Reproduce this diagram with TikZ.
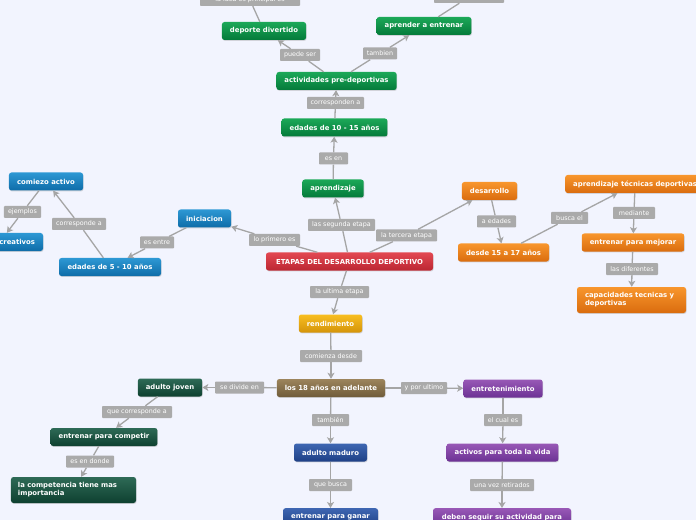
\documentclass[tikz,border=0pt]{standalone}
\usepackage{fontspec}
\setmainfont{DejaVu Sans}
\usetikzlibrary{shadows,arrows.meta}
\definecolor{bgc}{RGB}{242,244,254}
\definecolor{labgray}{RGB}{170,170,170}
\definecolor{linegray}{RGB}{165,165,165}
\definecolor{gTop}{RGB}{28,168,88}\definecolor{gBot}{RGB}{4,122,58}
\definecolor{bTop}{RGB}{45,152,212}\definecolor{bBot}{RGB}{14,108,168}
\definecolor{rTop}{RGB}{226,72,82}\definecolor{rBot}{RGB}{188,38,50}
\definecolor{oTop}{RGB}{248,150,45}\definecolor{oBot}{RGB}{218,108,14}
\definecolor{yTop}{RGB}{248,190,32}\definecolor{yBot}{RGB}{212,148,10}
\definecolor{brTop}{RGB}{156,132,92}\definecolor{brBot}{RGB}{112,92,58}
\definecolor{dgTop}{RGB}{46,106,86}\definecolor{dgBot}{RGB}{14,64,48}
\definecolor{dbTop}{RGB}{62,102,178}\definecolor{dbBot}{RGB}{30,64,134}
\definecolor{pTop}{RGB}{152,88,182}\definecolor{pBot}{RGB}{108,50,148}
\newcommand\NdFont{\fontsize{6.9}{8}\selectfont\bfseries}
\newcommand\LbFont{\fontsize{6.4}{7}\selectfont}
\tikzset{
  box/.style={rounded corners=2.5bp, text=white, font=\NdFont, minimum height=18bp,
    inner xsep=8bp, inner ysep=1bp,
    drop shadow={opacity=0.28, shadow xshift=0.6bp, shadow yshift=-0.9bp}},
  boxgreen/.style={box, top color=gTop, bottom color=gBot},
  boxblue/.style={box, top color=bTop, bottom color=bBot},
  boxred/.style={box, top color=rTop, bottom color=rBot},
  boxorange/.style={box, top color=oTop, bottom color=oBot},
  boxgold/.style={box, top color=yTop, bottom color=yBot},
  boxbrown/.style={box, top color=brTop, bottom color=brBot},
  boxdkgreen/.style={box, top color=dgTop, bottom color=dgBot},
  boxdkblue/.style={box, top color=dbTop, bottom color=dbBot},
  boxpurple/.style={box, top color=pTop, bottom color=pBot},
  lab/.style={fill=labgray, text=white, font=\LbFont, minimum height=12bp,
    inner xsep=2bp, inner ysep=0bp, rounded corners=0.8bp},
  conn/.style={draw=linegray, line width=1.3bp},
  arr/.style={conn, -{Stealth[length=6bp,width=7bp,inset=1.5bp]}}
}
\begin{document}
\begin{tikzpicture}[x=1bp,y=-1bp]
\path[use as bounding box, fill=bgc] (0,0) rectangle (696,520);
\clip (0,0) rectangle (696,520);

% ---- main nodes
\node[boxred, minimum width=167bp] (etapas) at (349.5,261.5) {ETAPAS DEL DESARROLLO DEPORTIVO};
% green branch
\node[boxgreen, minimum width=60bp] (aprz) at (333,188.5) {aprendizaje};
\node[boxgreen, minimum width=105bp] (e1015) at (334.5,127.5) {edades de 10 - 15 años};
\node[boxgreen, minimum width=119bp] (act) at (336.5,81) {actividades pre-deportivas};
\node[boxgreen, minimum width=82bp] (divert) at (264,31) {deporte divertido};
\node[boxgreen, minimum width=94bp] (aae) at (424,26) {aprender a entrenar};
% blue branch
\node[boxblue, minimum width=53bp] (ini) at (204.5,218.5) {iniciacion};
\node[boxblue, minimum width=102bp] (e510) at (110,267) {edades de 5 - 10 años};
\node[boxblue, minimum width=74bp] (comiezo) at (46,181.5) {comiezo activo};
\node[boxblue, text width=70bp, align=right] (creat) at (0,242) {creativos};
% orange branch
\node[boxorange, minimum width=55bp] (desa) at (489.5,191) {desarrollo};
\node[boxorange, minimum width=91bp] (d1517) at (503.5,252.5) {desde 15 a 17 años};
\node[boxorange, anchor=west] (atd) at (565,184) {aprendizaje técnicas deportivas};
\node[boxorange, minimum width=102bp] (epm) at (633,242.5) {entrenar para mejorar};
\node[boxorange, text width=93bp, align=left, minimum height=26bp] (capac) at (631.5,300) {capacidades tecnicas y\\deportivas};
% bottom branch
\node[boxgold, minimum width=63bp] (rend) at (330.5,323.5) {rendimiento};
\node[boxbrown, minimum width=108bp] (l18) at (331,388) {los 18 años en adelante};
\node[boxdkgreen, minimum width=64bp] (ajov) at (170,387.5) {adulto joven};
\node[boxdkgreen, minimum width=106bp] (epc) at (104,437) {entrenar para competir};
\node[boxdkgreen, text width=111bp, align=left, inner xsep=7bp, minimum height=26bp] (lct) at (73.5,490) {la competencia tiene mas\\importancia};
\node[boxdkblue, minimum width=73bp] (amad) at (330.5,452.5) {adulto maduro};
\node[boxdkblue, minimum width=95bp, anchor=north] (epg) at (330.5,508) {entrenar para ganar};
\node[boxpurple, minimum width=79bp] (entr) at (503,388.5) {entretenimiento};
\node[boxpurple, minimum width=111bp] (actv) at (502.5,452.5) {activos para toda la vida};
\node[boxpurple, minimum width=138bp, anchor=north] (deben) at (502,508) {deben seguir su actividad para};

% ---- labels
\node[lab, minimum width=100bp] (lidea) at (250,0) {la idea es principal es};
\node[lab, minimum width=70bp] (ltop) at (469,-3) {};
\node[lab, minimum width=40bp] (lpuede) at (300,55) {puede ser};
\node[lab, minimum width=34bp] (ltamb) at (380,53.5) {tambien};
\node[lab, minimum width=57bp] (lcorr) at (335.5,103) {corresponden a};
\node[lab, minimum width=29bp] (lesen) at (333.5,158.5) {es en};
\node[lab, minimum width=67bp] (lseg) at (341.5,225) {las segunda etapa};
\node[lab, minimum width=61bp] (lter) at (406.5,235.5) {la tercera etapa};
\node[lab, minimum width=51bp] (lprim) at (274.5,240) {lo primero es};
\node[lab, minimum width=34bp] (lentre) at (157,242.5) {es entre};
\node[lab, minimum width=54bp] (lcorr2) at (79,224) {corresponde a};
\node[lab, minimum width=37bp] (lejem) at (22.5,212) {ejemplos};
\node[lab, minimum width=39bp] (ledad) at (496.5,221.5) {a edades};
\node[lab, minimum width=37bp] (lbusca) at (569.5,218) {busca el};
\node[lab, minimum width=42bp] (lmed) at (634,213) {mediante};
\node[lab, minimum width=52bp] (ldif) at (632,269) {las diferentes};
\node[lab, minimum width=59bp] (lult) at (339.5,292) {la ultima etapa};
\node[lab, minimum width=62bp] (lcom) at (331,356) {comienza desde};
\node[lab, minimum width=49bp] (ldiv) at (239.5,387.5) {se divide en};
\node[lab, minimum width=46bp] (lypor) at (424,388) {y por ultimo};
\node[lab, minimum width=70bp] (lque) at (137,412) {que corresponde a};
\node[lab, minimum width=48bp] (ldonde) at (90,461.5) {es en donde};
\node[lab, minimum width=37bp] (ltamb2) at (330.5,420) {también};
\node[lab, minimum width=38bp] (lcual) at (503,420) {el cual es};
\node[lab, minimum width=43bp] (lbusq) at (330.5,485) {que busca};
\node[lab, minimum width=64bp] (lvez) at (502,485) {una vez retirados};

% ---- connectors
\draw[conn] (divert) -- (lidea);
\draw[conn] (aae) -- (ltop);
\draw[conn] (act) -- (lpuede); \draw[arr] (lpuede) -- (divert);
\draw[conn] (act) -- (ltamb); \draw[arr] (ltamb) -- (aae);
\draw[conn] (e1015) -- (lcorr); \draw[arr] (lcorr) -- (act);
\draw[conn] (aprz) -- (lesen); \draw[arr] (lesen) -- (e1015);
\draw[conn] (etapas) -- (lseg); \draw[arr] (lseg) -- (aprz);
\draw[conn] (etapas) -- (lter); \draw[arr] (lter) -- (desa);
\draw[conn] (etapas) -- (lprim); \draw[arr] (lprim) -- (ini);
\draw[conn] (ini) -- (lentre); \draw[arr] (lentre) -- (e510);
\draw[conn] (e510) -- (lcorr2); \draw[arr] (lcorr2) -- (comiezo);
\draw[conn] (comiezo) -- (lejem); \draw[arr] (lejem) -- (creat);
\draw[conn] (desa) -- (ledad); \draw[arr] (ledad) -- (d1517);
\draw[conn] (d1517) -- (lbusca); \draw[arr] (lbusca) -- (atd);
\draw[conn] (atd) -- (lmed); \draw[arr] (lmed) -- (epm);
\draw[conn] (epm) -- (ldif); \draw[arr] (ldif) -- (capac);
\draw[conn] (etapas) -- (lult); \draw[arr] (lult) -- (rend);
\draw[conn] (rend) -- (lcom); \draw[arr] (lcom) -- (l18);
\draw[conn] (l18) -- (ldiv); \draw[arr] (ldiv) -- (ajov);
\draw[conn] (l18) -- (lypor); \draw[arr] (lypor) -- (entr);
\draw[conn] (l18) -- (ltamb2); \draw[arr] (ltamb2) -- (amad);
\draw[conn] (amad) -- (lbusq); \draw[arr] (lbusq) -- (epg);
\draw[conn] (entr) -- (lcual); \draw[arr] (lcual) -- (actv);
\draw[conn] (actv) -- (lvez); \draw[arr] (lvez) -- (deben);
\draw[conn] (ajov) -- (lque); \draw[arr] (lque) -- (epc);
\draw[conn] (epc) -- (ldonde); \draw[arr] (ldonde) -- (lct);
\end{tikzpicture}
\end{document}
